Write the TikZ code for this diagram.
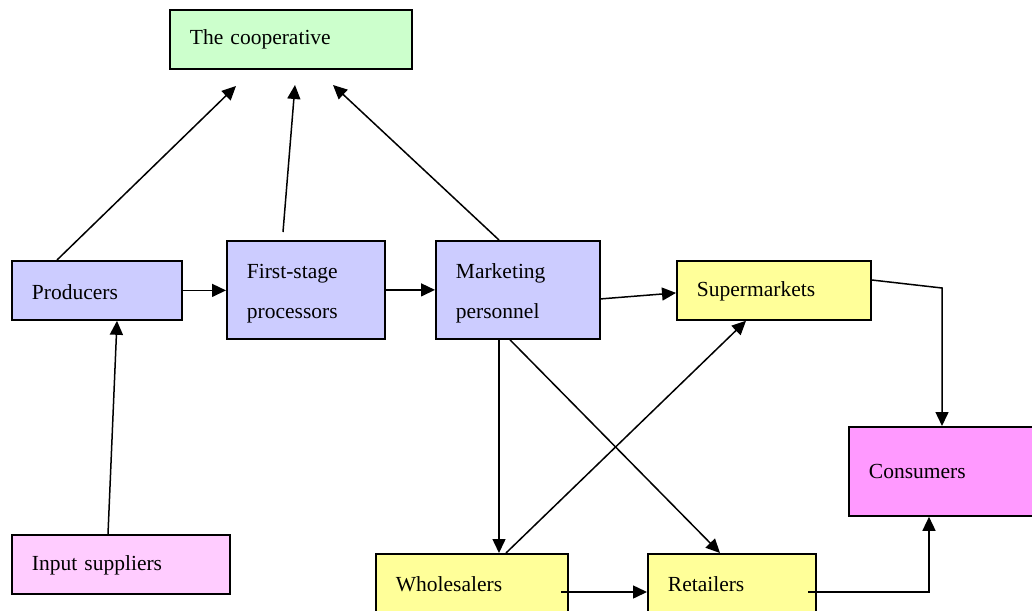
\documentclass[tikz,border=0pt]{standalone}
\usepackage{fontspec}
\setmainfont{Liberation Serif}
\usetikzlibrary{arrows.meta,calc}
\definecolor{coopc}{HTML}{CCFFCC}
\definecolor{bluec}{HTML}{CCCCFF}
\definecolor{yelc}{HTML}{FFFF99}
\definecolor{consc}{HTML}{FF99FF}
\definecolor{inpc}{HTML}{FFCCFF}
\begin{document}
\begin{tikzpicture}[x=1pt,y=-1pt,
  box/.style={draw, line width=1.8pt, anchor=north west, inner xsep=20pt, inner ysep=0pt,
    align=left, font=\fontsize{21.5}{40}\selectfont},
  arr/.style={line width=1.5pt, -{Triangle[length=14pt,width=13pt]}},
  ln/.style={line width=1.5pt}]
\useasboundingbox (0,0) rectangle (1032,610);
\clip (0,0) rectangle (1032,610);
\fill[white] (0,0) rectangle (1032,610);
% nodes
\node[box, fill=coopc, text width=202pt, minimum height=59pt] (coop) at (169,9) {The cooperative};
\node[box, fill=bluec, text width=130pt, minimum height=59pt, text height=18pt] (prod) at (11,260) {Producers};
\node[box, fill=bluec, text width=118pt, minimum height=98pt, text height=21pt] (fsp) at (226,240) {First-stage\\processors};
\node[box, fill=bluec, text width=124pt, minimum height=98pt, text height=21pt] (mkt) at (435,240) {Marketing\\personnel};
\node[box, fill=yelc, text width=154pt, minimum height=59pt, text height=17pt] (sup) at (676,260) {Supermarkets};
\node[box, fill=consc, text width=160pt, minimum height=89pt] (cons) at (848,426) {Consumers};
\node[box, fill=inpc, text width=178pt, minimum height=59pt, text height=17pt] (inp) at (11,534) {Input suppliers};
\node[box, fill=yelc, text width=152pt, minimum height=60pt] (whl) at (375,553) {Wholesalers};
\node[box, fill=yelc, text width=128pt, minimum height=60pt] (ret) at (647,553) {Retailers};
% free ends
\coordinate (c1) at (236,86);
\coordinate (c2) at (295,85);
\coordinate (c3) at (333,85);
\coordinate (f0) at (283,232);
\coordinate (cb) at (942,288);
% connectors
\draw[arr] ($(prod.north west)+(46,0)$) -- (c1);
\draw[arr] (f0) -- (c2);
\draw[arr] ($(mkt.north west)+(64,0)$) -- (c3);
\draw[arr] (prod.east) -- (prod.east -| fsp.west);
\draw[arr] (fsp.east) -- (fsp.east -| mkt.west);
\draw[arr] ($(mkt.east)+(0,9)$) -- ($(sup.west)+(0,2.5)$);
\draw[arr] ($(sup.north east)+(0,20)$) -- (cb) -- (cb |- cons.north);
\draw[arr] ($(mkt.south west)+(64,0)$) -- ($(whl.north west)+(124,0)$);
\draw[arr] ($(mkt.south west)+(75,0)$) -- ($(ret.north west)+(73,0)$);
\draw[arr] ($(whl.north west)+(131,0)$) -- ($(sup.south west)+(70,0)$);
\draw[arr] ($(inp.north west)+(97,0)$) -- ($(prod.south west)+(106,0)$);
\draw[arr] ($(whl.north west)+(186,39)$) -- ($(ret.north west)+(0,39)$);
\draw[arr] ($(ret.north west)+(161,39)$) -| ($(cons.south west)+(81,0)$);
\end{tikzpicture}
\end{document}
